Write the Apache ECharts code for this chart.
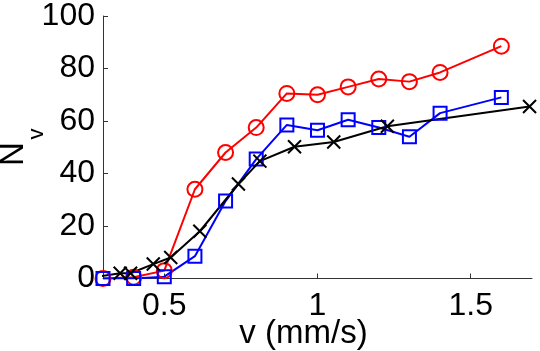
<!DOCTYPE html>
<html>
<head>
<meta charset="utf-8">
<script src="https://cdn.jsdelivr.net/npm/echarts@6/dist/echarts.min.js"></script>
<style>
  html, body { margin: 0; padding: 0; background: #fff; }
  #chart { width: 540px; height: 351px; }
</style>
</head>
<body>
<div id="chart"></div>
<script>
// values
const redX = [0.3, 0.4, 0.5, 0.6, 0.7, 0.8, 0.9, 1.0, 1.1, 1.2, 1.3, 1.4, 1.6];
const redY = [0, 0.5, 3, 34, 48, 57.5, 70.5, 70, 73, 76, 75, 78.5, 88.5];
const blueX = [0.3, 0.4, 0.5, 0.6, 0.7, 0.8, 0.9, 1.0, 1.1, 1.2, 1.3, 1.4, 1.6];
const blueY = [0, 0, 0.7, 8.5, 29.5, 45.5, 58.5, 56.5, 60.5, 57.5, 54, 63, 69];
const blackX = [0.28, 0.356, 0.39, 0.464, 0.521, 0.616, 0.742, 0.812, 0.925, 1.053, 1.228, 1.692];
const blackY = [0.7, 2, 2, 5.5, 8, 18, 36, 44.7, 50.2, 52, 58, 65.5];
const xTicks = [0.5, 1, 1.5];
const yTicks = [0, 20, 40, 60, 80, 100];

const pairs = (xs, ys) => xs.map((x, i) => [x, ys[i]]);

const font = 'Liberation Sans, Arial, Helvetica, sans-serif';
const chart = echarts.init(document.getElementById('chart'));

const option = {
    animation: false,
    grid: { left: 103, right: 8, top: 13.5, bottom: 72.5, containLabel: false },
    xAxis: {
        type: 'value',
        min: 0.3,
        max: 1.7,
        axisLine: { show: true, onZero: false, lineStyle: { color: '#333', width: 1 } },
        axisTick: { show: true, inside: true, length: 5, customValues: xTicks, lineStyle: { color: '#333' } },
        axisLabel: {
            customValues: xTicks,
            margin: 12,
            color: '#000',
            fontFamily: font,
            fontSize: 32,
            formatter: v => String(v)
        },
        splitLine: { show: false }
    },
    yAxis: {
        type: 'value',
        min: 0,
        max: 100,
        interval: 20,
        axisLine: { show: true, lineStyle: { color: '#333', width: 1 } },
        axisTick: { show: true, inside: true, length: 5, lineStyle: { color: '#333' } },
        axisLabel: {
            margin: 8,
            color: '#000',
            fontFamily: font,
            fontSize: 32,
            formatter: v => (yTicks.indexOf(v) >= 0 ? String(v) : '')
        },
        splitLine: { show: false }
    },
    graphic: [
        {
            type: 'text',
            x: 303.5, y: 334,
            style: { text: 'v (mm/s)', font: '33px ' + font, fill: '#000', align: 'center', verticalAlign: 'middle' }
        },
        {
            type: 'text',
            x: 14, y: 154, rotation: Math.PI / 2,
            style: { text: 'N', font: '33px ' + font, fill: '#000', align: 'center', verticalAlign: 'middle' }
        },
        {
            type: 'text',
            x: 36.5, y: 134, rotation: Math.PI / 2,
            style: { text: 'v', font: '22px ' + font, fill: '#000', align: 'center', verticalAlign: 'middle' }
        }
    ],
    series: [
        {
            name: 'red',
            type: 'line',
            data: pairs(redX, redY),
            symbol: 'circle',
            symbolSize: 15,
            lineStyle: { color: '#ff0000', width: 2 },
            itemStyle: { color: 'rgba(0,0,0,0)', borderColor: '#ff0000', borderWidth: 2 }
        },
        {
            name: 'blue',
            type: 'line',
            data: pairs(blueX, blueY),
            symbol: 'rect',
            symbolSize: 13,
            lineStyle: { color: '#0000ff', width: 2 },
            itemStyle: { color: 'rgba(0,0,0,0)', borderColor: '#0000ff', borderWidth: 2 }
        },
        {
            name: 'black',
            type: 'line',
            data: pairs(blackX, blackY),
            symbol: 'path://M0,0L10,10M10,0L0,10',
            symbolSize: 13,
            lineStyle: { color: '#000', width: 2 },
            itemStyle: { color: 'rgba(0,0,0,0)', borderColor: '#000', borderWidth: 2 }
        }
    ]
};

chart.setOption(option);
</script>
</body>
</html>
